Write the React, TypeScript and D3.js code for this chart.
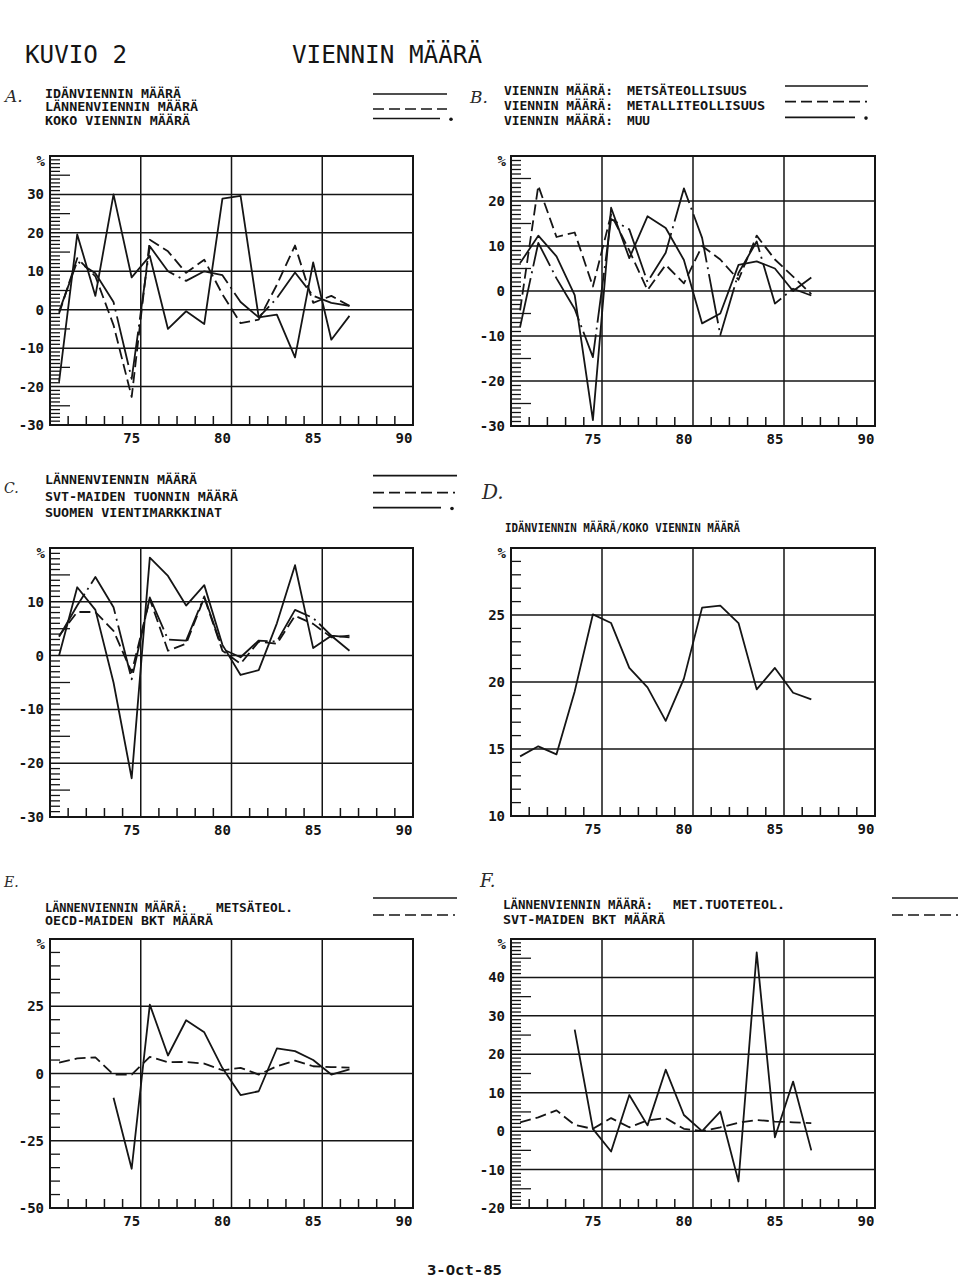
import React from 'react';
import * as d3 from 'd3';

// ---------- DATA ----------
const YEARS = [71, 72, 73, 74, 75, 76, 77, 78, 79, 80, 81, 82, 83, 84, 85, 86, 87];
const X_LABELS = [75, 80, 85, 90];

// A
const A_IDAN = [-18.8, 19.6, 3.6, 30, 8.4, 14, -5, -0.4, -3.7, 28.9, 29.6, -2, -1.3, -12.4, 12.3, -7.8, -1.6];
const A_LANNEN = [-1, 13.4, 8.7, -4, -22.7, 18.2, 15.2, 9.6, 13, 4, -3.5, -2.6, 6.5, 16.7, 1.8, 3.6, 1];
const A_KOKO = [-0.5, 12.6, 9.5, 2, -18, 16.5, 10, 7.5, 10, 9, 2, -2, 3, 9.7, 3.6, 1.8, 1];
const A_TICKS = [30, 20, 10, 0, -10, -20, -30];

// B
const B_METSA = [6.2, 12.3, 7.7, -0.9, -28.7, 18.5, 7.3, 16.6, 14, 6.9, -7.2, -5, 5.8, 6.6, 5, 0, 3];
const B_METALLI = [-4.3, 23.4, 12, 13, 1, 17, 9, 0.2, 5.8, 1.7, 10, 7, 2.5, 12.3, 7, 3.2, -0.7];
const B_MUU = [-8, 10.7, 2.8, -4, -14.7, 16, 13.7, 2, 8.5, 22.8, 11.8, -9.8, 4, 11, -2.8, 0.5, -1];
const B_TICKS = [20, 10, 0, -10, -20, -30];

// C
const C_LANNEN = [0, 12.7, 8.5, -5, -22.8, 18.2, 14.8, 9.3, 13.1, 2, -3.6, -2.7, 6, 16.8, 1.4, 3.7, 0.9];
const C_SVT_TUONTI = [3.7, 8.1, 8.1, 4.6, -3.1, 10.5, 0.9, 2.2, 10.8, 0.9, -1.5, 2.6, 2.2, 7.4, 5.9, 3.4, 3.7];
const C_VIENTIMARKKINAT = [3.5, 9.3, 14.6, 9, -4.4, 10.8, 3, 2.8, 11, 1.2, -0.3, 2.8, 2.6, 8.5, 7, 3.7, 3.4];
const C_TICKS = [10, 0, -10, -20, -30];

// D
const D_OSUUS = [14.45, 15.2, 14.6, 19.3, 25.05, 24.4, 21.05, 19.6, 17.1, 20.25, 25.55, 25.7, 24.4, 19.45, 21.05, 19.2, 18.7];
const D_TICKS = [25, 20, 15, 10];

// E
const E_METSATEOL = [null, null, null, -9, -35.4, 25.6, 6.7, 19.8, 15.3, 2, -8, -6.6, 9.3, 8.3, 5, -0.4, 1.5];
const E_OECD_BKT = [4, 5.6, 6, -0.4, -0.4, 6.2, 4.2, 4.3, 3.7, 1.2, 2.1, -0.4, 2.7, 4.8, 2.7, 2.4, 2.2];
const E_TICKS = [25, 0, -25, -50];

// F
const F_METTUOTE = [null, null, null, 26.4, 0.6, -5.3, 9.4, 1.5, 16, 4.2, 0, 5.1, -13.1, 46.5, -1.6, 12.9, -5];
const F_SVT_BKT = [2.3, 3.6, 5.4, 1.6, 0.6, 3.4, 1, 2.8, 3.4, 0.6, 0, 1, 2.2, 2.9, 2.5, 2.3, 2.1];
const F_TICKS = [40, 30, 20, 10, 0, -10, -20];

// ---------- STYLE ----------
const INK = '#151515';
const MONO = '"DejaVu Sans Mono", monospace';
const HAND = '"DejaVu Serif", serif';
const DASH: Record<string, string | undefined> = {
  solid: undefined,
  dash: '11,5',
  dashdot: '50,5,2,5',
};

type Series = { values: (number | null)[]; style: 'solid' | 'dash' | 'dashdot' };
type PanelCfg = {
  x0: number; x1: number; y0: number; y1: number;
  yDomain: [number, number];
  grid: number; minor: number; mid: number | null;
  ticks: number[];
  series: Series[];
};

const X_DOMAIN: [number, number] = [70.5, 90.5];
const X_GRID = [75.5, 80.5, 85.5];

function Panel({ cfg }: { cfg: PanelCfg }) {
  const xs = d3.scaleLinear().domain(X_DOMAIN).range([cfg.x0, cfg.x1]);
  const ys = d3.scaleLinear().domain(cfg.yDomain).range([cfg.y1, cfg.y0]);
  const [lo, hi] = cfg.yDomain;
  const isMult = (v: number, s: number) => Math.abs(v / s - Math.round(v / s)) < 1e-6;
  const hGrid = d3.range(lo + cfg.grid, hi - 1e-6, cfg.grid);
  const minorTicks = d3.range(lo + cfg.minor, hi - 1e-6, cfg.minor).filter((v) => !isMult(v - lo, cfg.grid));
  const xTicks = d3.range(71.5, 90, 1).filter((v) => !X_GRID.includes(v));
  const line = d3
    .line<number | null>()
    .defined((v) => v != null)
    .x((_, i) => xs(YEARS[i]))
    .y((v) => ys(v as number));

  return (
    <g>
      {hGrid.map((v) => (
        <line key={'h' + v} x1={cfg.x0} x2={cfg.x1} y1={ys(v)} y2={ys(v)} stroke={INK} strokeWidth={1.5} />
      ))}
      {X_GRID.map((v) => (
        <line key={'v' + v} x1={xs(v)} x2={xs(v)} y1={cfg.y0} y2={cfg.y1} stroke={INK} strokeWidth={1.5} />
      ))}
      {minorTicks.map((v) => (
        <line
          key={'m' + v}
          x1={cfg.x0}
          x2={cfg.x0 + (cfg.mid && isMult(v, cfg.mid) ? 20 : 10)}
          y1={ys(v)}
          y2={ys(v)}
          stroke={INK}
          strokeWidth={1.3}
        />
      ))}
      {xTicks.map((v) => (
        <line key={'x' + v} x1={xs(v)} x2={xs(v)} y1={cfg.y1} y2={cfg.y1 - 9} stroke={INK} strokeWidth={1.5} />
      ))}
      <rect
        x={cfg.x0}
        y={cfg.y0}
        width={cfg.x1 - cfg.x0}
        height={cfg.y1 - cfg.y0}
        fill="none"
        stroke={INK}
        strokeWidth={2}
      />
      {cfg.series.map((s, i) => (
        <path
          key={'s' + i}
          d={line(s.values) || ''}
          fill="none"
          stroke={INK}
          strokeWidth={1.8}
          strokeDasharray={DASH[s.style]}
          strokeLinejoin="round"
        />
      ))}
      {cfg.ticks.map((v) => (
        <text
          key={'t' + v}
          x={cfg.x0 - 6}
          y={ys(v)}
          dy="0.36em"
          textAnchor="end"
          fontFamily={MONO}
          fontWeight="bold"
          fontSize={14}
          fill={INK}
        >
          {v}
        </text>
      ))}
      <text x={cfg.x0 - 5} y={cfg.y0 + 10} textAnchor="end" fontFamily={MONO} fontWeight="bold" fontSize={14} fill={INK}>
        %
      </text>
      {X_LABELS.map((v) => (
        <text
          key={'xl' + v}
          x={xs(v)}
          y={cfg.y1 + 18}
          textAnchor="middle"
          fontFamily={MONO}
          fontWeight="bold"
          fontSize={14}
          fill={INK}
        >
          {v}
        </text>
      ))}
    </g>
  );
}

const LEFT = { x0: 50, x1: 413 };
const RIGHT = { x0: 511, x1: 875 };

const PANELS: PanelCfg[] = [
  {
    ...LEFT, y0: 156, y1: 425, yDomain: [-30, 40], grid: 10, minor: 1, mid: 5, ticks: A_TICKS,
    series: [
      { values: A_IDAN, style: 'solid' },
      { values: A_LANNEN, style: 'dash' },
      { values: A_KOKO, style: 'dashdot' },
    ],
  },
  {
    ...RIGHT, y0: 156, y1: 426, yDomain: [-30, 30], grid: 10, minor: 1, mid: 5, ticks: B_TICKS,
    series: [
      { values: B_METSA, style: 'solid' },
      { values: B_METALLI, style: 'dash' },
      { values: B_MUU, style: 'dashdot' },
    ],
  },
  {
    ...LEFT, y0: 548, y1: 817, yDomain: [-30, 20], grid: 10, minor: 1, mid: 5, ticks: C_TICKS,
    series: [
      { values: C_LANNEN, style: 'solid' },
      { values: C_SVT_TUONTI, style: 'dash' },
      { values: C_VIENTIMARKKINAT, style: 'dashdot' },
    ],
  },
  {
    ...RIGHT, y0: 548, y1: 816, yDomain: [10, 30], grid: 5, minor: 1, mid: null, ticks: D_TICKS,
    series: [{ values: D_OSUUS, style: 'solid' }],
  },
  {
    ...LEFT, y0: 939, y1: 1208, yDomain: [-50, 50], grid: 25, minor: 5, mid: null, ticks: E_TICKS,
    series: [
      { values: E_METSATEOL, style: 'solid' },
      { values: E_OECD_BKT, style: 'dash' },
    ],
  },
  {
    ...RIGHT, y0: 939, y1: 1208, yDomain: [-20, 50], grid: 10, minor: 1, mid: 5, ticks: F_TICKS,
    series: [
      { values: F_METTUOTE, style: 'solid' },
      { values: F_SVT_BKT, style: 'dash' },
    ],
  },
];

function T({ x, y, len, children, size = 12.5 }: { x: number; y: number; len: number; children: React.ReactNode; size?: number }) {
  return (
    <text
      x={x}
      y={y}
      textLength={len}
      lengthAdjust="spacingAndGlyphs"
      fontFamily={MONO}
      fontWeight="bold"
      fontSize={size}
      fill={INK}
    >
      {children}
    </text>
  );
}

function Sample({ x1, x2, y, style }: { x1: number; x2: number; y: number; style: 'solid' | 'dash' | 'dashdot' }) {
  if (style === 'dashdot') {
    return (
      <g>
        <line x1={x1} x2={x2} y1={y} y2={y} stroke={INK} strokeWidth={1.7} />
        <circle cx={x2 + 11} cy={y + 0.8} r={1.8} fill={INK} />
      </g>
    );
  }
  return <line x1={x1} x2={x2} y1={y} y2={y} stroke={INK} strokeWidth={1.7} strokeDasharray={DASH[style]} />;
}

function Hand({ x, y, children, size = 17 }: { x: number; y: number; children: React.ReactNode; size?: number }) {
  return (
    <text x={x} y={y} fontFamily={HAND} fontStyle="italic" fontSize={size} fill="#2a2a2a">
      {children}
    </text>
  );
}

export default function App() {
  return (
    <svg
      width={960}
      height={1280}
      viewBox="0 0 960 1280"
      style={{ position: 'absolute', left: 0, top: 0, background: '#fff' }}
    >
      <rect x={0} y={0} width={960} height={1280} fill="#fff" />
      {/* titles */}
      <text x={25} y={63} textLength={102} lengthAdjust="spacingAndGlyphs" fontFamily={MONO} fontSize={24} fill={INK}>
        KUVIO 2
      </text>
      <text x={292} y={63} textLength={190} lengthAdjust="spacingAndGlyphs" fontFamily={MONO} fontSize={24} fill={INK}>
        VIENNIN MÄÄRÄ
      </text>

      {/* legend A */}
      <Hand x={5} y={102}>A.</Hand>
      <T x={45} y={98} len={136}>IDÄNVIENNIN MÄÄRÄ</T>
      <T x={45} y={110.7} len={153}>LÄNNENVIENNIN MÄÄRÄ</T>
      <T x={45} y={125} len={145}>KOKO VIENNIN MÄÄRÄ</T>
      <Sample x1={373} x2={447} y={94} style="solid" />
      <Sample x1={373} x2={447} y={109} style="dash" />
      <Sample x1={373} x2={440} y={118.5} style="dashdot" />

      {/* legend B */}
      <Hand x={470} y={103}>B.</Hand>
      <T x={504} y={94.5} len={109}>VIENNIN MÄÄRÄ:</T>
      <T x={504} y={110} len={109}>VIENNIN MÄÄRÄ:</T>
      <T x={504} y={125} len={109}>VIENNIN MÄÄRÄ:</T>
      <T x={627} y={94.5} len={120}>METSÄTEOLLISUUS</T>
      <T x={627} y={110} len={138}>METALLITEOLLISUUS</T>
      <T x={627} y={125} len={23}>MUU</T>
      <Sample x1={785} x2={868} y={86} style="solid" />
      <Sample x1={785} x2={867} y={101.7} style="dash" />
      <Sample x1={785} x2={855} y={117.3} style="dashdot" />

      {/* legend C */}
      <Hand x={4} y={493} size={14}>C.</Hand>
      <T x={45} y={483.5} len={152}>LÄNNENVIENNIN MÄÄRÄ</T>
      <T x={45} y={500.5} len={193}>SVT-MAIDEN TUONNIN MÄÄRÄ</T>
      <T x={45} y={516.8} len={177}>SUOMEN VIENTIMARKKINAT</T>
      <Sample x1={373} x2={457} y={475.7} style="solid" />
      <Sample x1={373} x2={455} y={492.7} style="dash" />
      <Sample x1={373} x2={441} y={507.7} style="dashdot" />

      {/* title D */}
      <Hand x={482} y={499} size={20}>D.</Hand>
      <T x={505} y={532} len={235}>IDÄNVIENNIN MÄÄRÄ/KOKO VIENNIN MÄÄRÄ</T>

      {/* legend E */}
      <Hand x={4} y={887} size={14}>E.</Hand>
      <T x={45} y={912} len={143}>LÄNNENVIENNIN MÄÄRÄ:</T>
      <T x={216} y={912} len={77}>METSÄTEOL.</T>
      <T x={45} y={924.5} len={168}>OECD-MAIDEN BKT MÄÄRÄ</T>
      <Sample x1={373} x2={457} y={898} style="solid" />
      <Sample x1={373} x2={455} y={915} style="dash" />

      {/* legend F */}
      <Hand x={480} y={887} size={18}>F.</Hand>
      <T x={503} y={909} len={150}>LÄNNENVIENNIN MÄÄRÄ:</T>
      <T x={673} y={909} len={112}>MET.TUOTETEOL.</T>
      <T x={503} y={924} len={162}>SVT-MAIDEN BKT MÄÄRÄ</T>
      <Sample x1={892} x2={958} y={898} style="solid" />
      <Sample x1={892} x2={958} y={915} style="dash" />

      {PANELS.map((p, i) => (
        <Panel key={i} cfg={p} />
      ))}

      <T x={427} y={1275} len={75} size={14}>3-Oct-85</T>
    </svg>
  );
}
